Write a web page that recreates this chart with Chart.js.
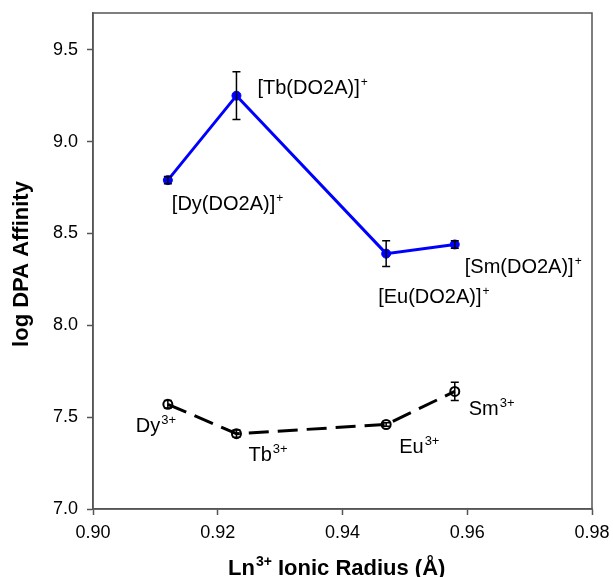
<!DOCTYPE html>
<html>
<head>
<meta charset="utf-8">
<script src="https://cdn.jsdelivr.net/npm/chart.js@4.4.1/dist/chart.umd.min.js"></script>
<style>
    body { margin: 0; background: #fff; }
    #wrap { width: 613px; height: 577px; }
</style>
</head>
<body>
<div id="wrap"><canvas id="dpaChart"></canvas></div>
<script>
// Data
const radius = [0.912, 0.923, 0.947, 0.958];
const complexValues = [8.79, 9.25, 8.39, 8.44];
const complexErrors = [0.02, 0.13, 0.07, 0.02];
const ionValues = [7.57, 7.41, 7.46, 7.64];
const ionErrors = [0.02, 0.02, 0.01, 0.05];
const complexNames = ['[Dy(DO2A)]', '[Tb(DO2A)]', '[Eu(DO2A)]', '[Sm(DO2A)]'];
const ionNames = ['Dy', 'Tb', 'Eu', 'Sm'];
const xTicks = [0.90, 0.92, 0.94, 0.96, 0.98];
const yTicks = [7.0, 7.5, 8.0, 8.5, 9.0, 9.5];

const FONT = '"Liberation Sans", Arial, sans-serif';

// label offsets from their point (pixels, to left edge / baseline)
const complexOffsets = [[4, 30], [21, -2], [-8, 49], [10, 29]];
const ionOffsets = [[-32, 28], [12, 27], [13, 29], [14, 24]];

// text with a superscript part
function drawSup(ctx, x, y, base, sup, size, supSize, bold) {
    const w = bold ? 'bold ' : '';
    ctx.font = w + size + 'px ' + FONT;
    ctx.fillText(base, x, y);
    const bw = ctx.measureText(base).width;
    ctx.font = w + supSize + 'px ' + FONT;
    ctx.fillText(sup, x + bw + 1, y - size * 0.4);
    return bw + 1 + ctx.measureText(sup).width;
}

const errorBars = {
    id: 'errorBars',
    afterDatasetsDraw(chart) {
        const ctx = chart.ctx;
        const ys = chart.scales.y;
        const sets = [complexErrors, ionErrors];
        ctx.save();
        ctx.strokeStyle = '#000';
        ctx.lineWidth = 1.5;
        sets.forEach((errs, i) => {
            const meta = chart.getDatasetMeta(i);
            const vals = chart.data.datasets[i].data;
            meta.data.forEach((pt, j) => {
                const top = ys.getPixelForValue(vals[j].y + errs[j]);
                const bot = ys.getPixelForValue(vals[j].y - errs[j]);
                ctx.beginPath();
                ctx.moveTo(pt.x, top); ctx.lineTo(pt.x, bot);
                ctx.moveTo(pt.x - 4, top); ctx.lineTo(pt.x + 4, top);
                ctx.moveTo(pt.x - 4, bot); ctx.lineTo(pt.x + 4, bot);
                ctx.stroke();
            });
        });
        ctx.restore();
    }
};

const decorations = {
    id: 'decorations',
    afterDraw(chart) {
        const ctx = chart.ctx;
        const a = chart.chartArea;
        ctx.save();
        // frame
        ctx.strokeStyle = '#555';
        ctx.lineWidth = 1.5;
        ctx.strokeRect(a.left, a.top, a.right - a.left, a.bottom - a.top);

        ctx.fillStyle = '#000';
        ctx.textBaseline = 'alphabetic';
        ctx.textAlign = 'left';
        const m0 = chart.getDatasetMeta(0).data;
        const m1 = chart.getDatasetMeta(1).data;
        complexNames.forEach((n, i) => {
            drawSup(ctx, m0[i].x + complexOffsets[i][0], m0[i].y + complexOffsets[i][1], n, '+', 20, 12, false);
        });
        ionNames.forEach((n, i) => {
            drawSup(ctx, m1[i].x + ionOffsets[i][0], m1[i].y + ionOffsets[i][1], n, '3+', 20, 13, false);
        });

        // x title
        const tw = drawSup(ctx, 228, 575, 'Ln', '3+', 22, 14, true);
        ctx.font = 'bold 22px ' + FONT;
        ctx.fillText(' Ionic Radius (Å)', 228 + tw, 575);

        // y title
        ctx.translate(28, 264);
        ctx.rotate(-Math.PI / 2);
        ctx.textAlign = 'center';
        ctx.font = 'bold 22px ' + FONT;
        ctx.fillText('log DPA Affinity', 0, 0);
        ctx.restore();
    }
};

new Chart(document.getElementById('dpaChart'), {
    type: 'scatter',
    data: {
        datasets: [{
            data: radius.map((r, i) => ({ x: r, y: complexValues[i] })),
            showLine: true,
            borderColor: '#0000ff',
            backgroundColor: '#0000ff',
            borderWidth: 3,
            pointRadius: 4.5,
            pointBorderWidth: 1
        }, {
            data: radius.map((r, i) => ({ x: r, y: ionValues[i] })),
            showLine: true,
            borderColor: '#000',
            backgroundColor: 'rgba(255,255,255,0)',
            borderWidth: 3,
            borderDash: [20, 9],
            pointRadius: 4.5,
            pointBorderWidth: 2
        }]
    },
    options: {
        responsive: true,
        maintainAspectRatio: false,
        animation: false,
        layout: { padding: { top: 13, right: 21, left: 0, bottom: 0 } },
        plugins: { legend: { display: false }, tooltip: { enabled: false } },
        scales: {
            x: {
                type: 'linear',
                min: 0.90, max: 0.98,
                afterBuildTicks: s => { s.ticks = xTicks.map(v => ({ value: v })); },
                afterFit: s => { s.height = 68; s.paddingLeft = 0; s.paddingRight = 0; },
                ticks: { color: '#000', font: { size: 18, family: FONT }, padding: 7, maxRotation: 0,
                    callback: v => v.toFixed(2) },
                grid: { drawOnChartArea: false, drawTicks: true, tickLength: 6, tickColor: '#555', tickWidth: 1.5 },
                border: { color: '#555', width: 1.5 }
            },
            y: {
                min: 7.0, max: 9.7,
                afterBuildTicks: s => { s.ticks = yTicks.map(v => ({ value: v })); },
                afterFit: s => { s.width = 93; s.paddingTop = 0; s.paddingBottom = 0; },
                ticks: { color: '#000', font: { size: 18, family: FONT }, padding: 9,
                    callback: v => v.toFixed(1) },
                grid: { drawOnChartArea: false, drawTicks: true, tickLength: 6, tickColor: '#555', tickWidth: 1.5 },
                border: { color: '#555', width: 1.5 }
            }
        }
    },
    plugins: [errorBars, decorations]
});
</script>
</body>
</html>
